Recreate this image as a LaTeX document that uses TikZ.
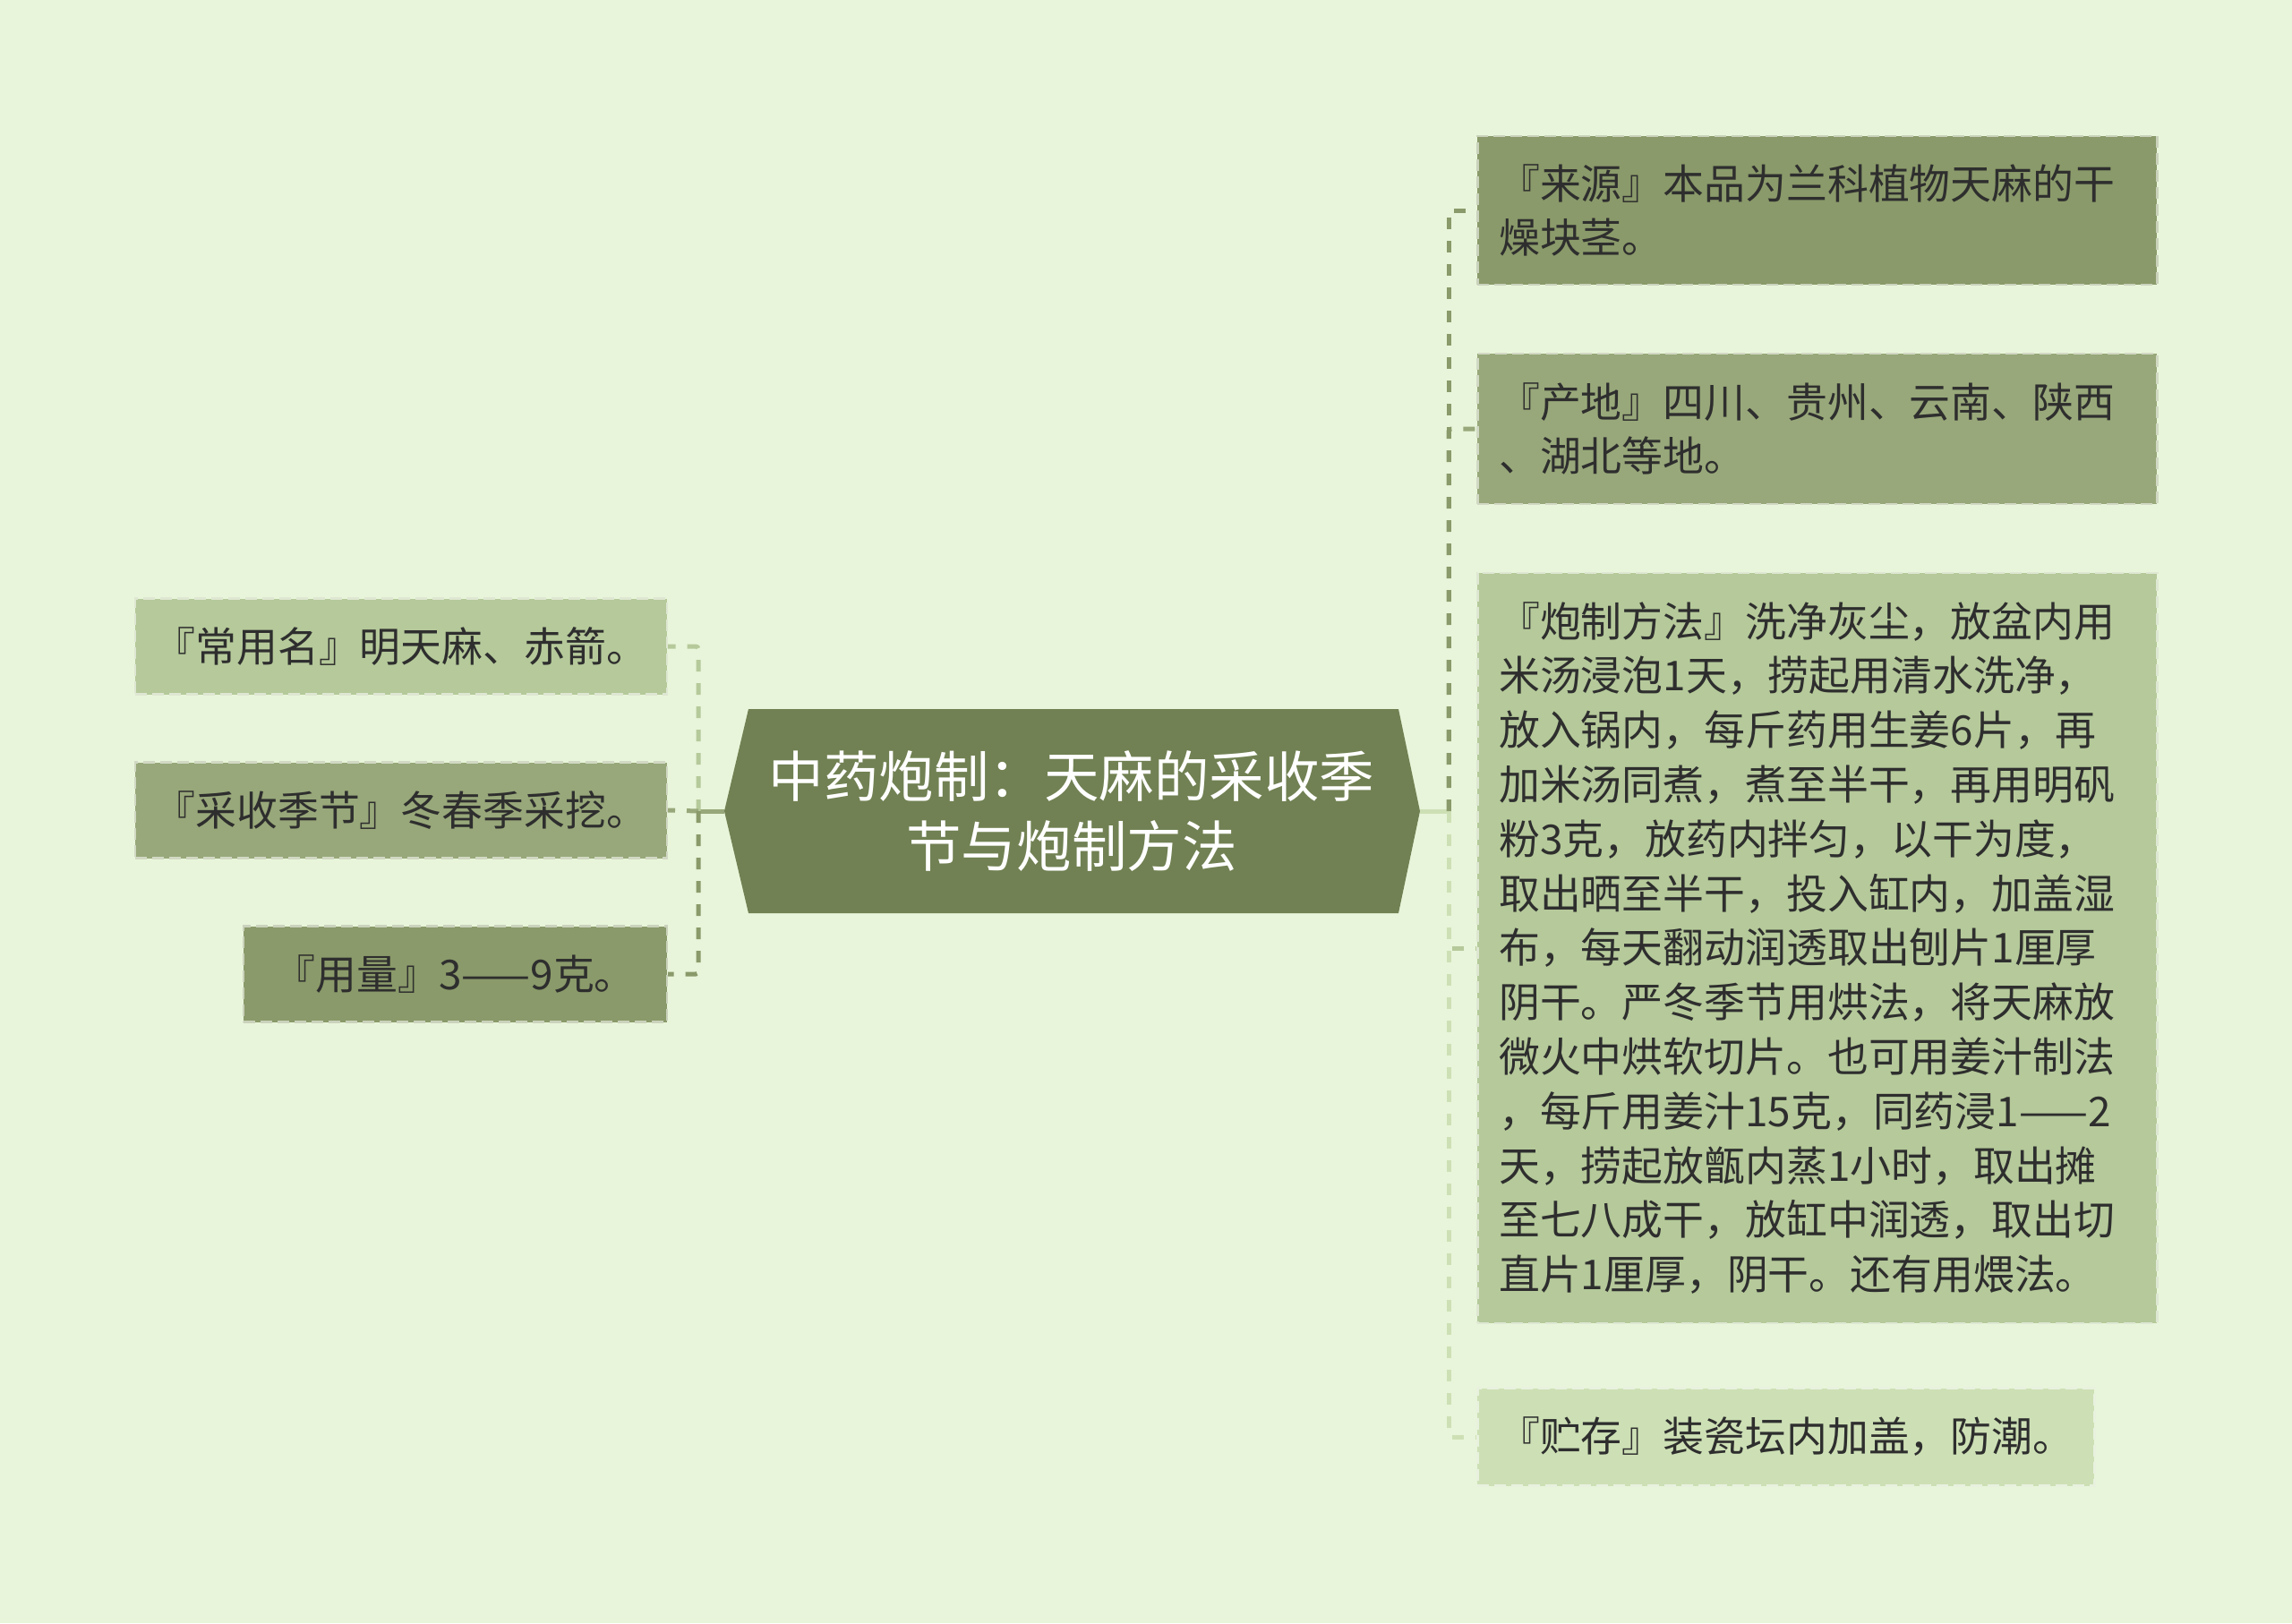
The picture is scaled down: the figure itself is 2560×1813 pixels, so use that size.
\documentclass[tikz,border=0pt]{standalone}
\usepackage{fontspec}
\setmainfont{Noto Sans CJK SC}
\usetikzlibrary{positioning}
\definecolor{bg}{HTML}{E8F5DA}
\definecolor{rootc}{HTML}{718153}
\definecolor{darkg}{HTML}{8A9A6A}
\definecolor{midg}{HTML}{98A87A}
\definecolor{lightg}{HTML}{B5C99A}
\definecolor{paleg}{HTML}{CDE0B5}
\definecolor{ink}{HTML}{2E2E2E}

\begin{document}
\begin{tikzpicture}[x=0.1mm,y=-0.1mm,
    leaf/.style={rectangle,fill=#1,draw=#1!45!white,line width=0.25mm,
      dash pattern=on 1.3mm off 0.6mm,text=ink,inner xsep=2.4mm,inner ysep=0mm,
      font=\fontsize{13.05}{17.3}\selectfont},
    lleaf/.style={leaf=#1,align=center,inner xsep=1.8mm,minimum height=10.7mm,anchor=east},
    link/.style={draw=#1,line width=0.5mm,dash pattern=on 1.3mm off 1.3mm,rounded corners=0.3mm},
    stub/.style={draw=#1,line width=0.5mm}]
  \fill[bg] (0,0) rectangle (2560,1813);
  \useasboundingbox (0,0) rectangle (2560,1813);

  \fill[rootc] (809,906) -- (836,792) -- (1562,792) -- (1586,906)
    -- (1562,1020) -- (836,1020) -- cycle;
  \node[text=white,align=center,font=\fontsize{17.5}{22.2}\selectfont] (root) at (1197,906)
    {中药炮制：天麻的采收季\\节与炮制方法};
  \coordinate (rootW) at (809,906);
  \coordinate (rootE) at (1586,906);
  \coordinate (lhub) at (780,906);
  \coordinate (rhub) at (1618,906);

  \node[lleaf=lightg,minimum width=59.4mm] (cym) at (746,722) {『常用名』明天麻、赤箭。};
  \node[lleaf=midg,minimum width=59.4mm] (cs) at (746,905) {『采收季节』冬春季采挖。};
  \node[lleaf=darkg,minimum width=47.3mm] (yl) at (746,1088) {『用量』3——9克。};

  \node[leaf=darkg,text width=71.1mm,align=left,minimum height=16.6mm,anchor=west]
    (ly) at (1649,235) {『来源』本品为兰科植物天麻的干\\燥块茎。};
  \node[leaf=midg,text width=71.1mm,align=left,minimum height=16.8mm,anchor=west]
    (cd) at (1649,479) {『产地』四川、贵州、云南、陕西\\、湖北等地。};
  \node[leaf=lightg,text width=71.1mm,align=left,minimum height=83.8mm,anchor=west]
    (pz) at (1649,1059) {『炮制方法』洗净灰尘，放盆内用\\米汤浸泡1天，捞起用清水洗净，\\
    放入锅内，每斤药用生姜6片，再\\加米汤同煮，煮至半干，再用明矾\\
    粉3克，放药内拌匀，以干为度，\\取出晒至半干，投入缸内，加盖湿\\
    布，每天翻动润透取出刨片1厘厚\\阴干。严冬季节用烘法，将天麻放\\
    微火中烘软切片。也可用姜汁制法\\，每斤用姜汁15克，同药浸1——2\\
    天，捞起放甑内蒸1小时，取出摊\\至七八成干，放缸中润透，取出切\\
    直片1厘厚，阴干。还有用煨法。};
  \node[leaf=paleg,text width=64.1mm,align=left,minimum height=10.9mm,anchor=west]
    (zc) at (1649,1605) {『贮存』装瓷坛内加盖，防潮。};

  \draw[stub=midg] (rootW) -- (lhub);
  \draw[link=lightg] (lhub) |- (cym.east);
  \draw[link=midg] (lhub) -- (cs.east);
  \draw[link=darkg] (lhub) |- (yl.east);

  \draw[stub=paleg] (rootE) -- (rhub);
  \draw[link=lightg] (rhub) |- (pz.west);
  \draw[link=paleg] (rhub) |- (zc.west);
  \draw[link=midg] (rhub) |- (cd.west);
  \draw[link=darkg] (rhub) |- (ly.west);
\end{tikzpicture}
\end{document}
